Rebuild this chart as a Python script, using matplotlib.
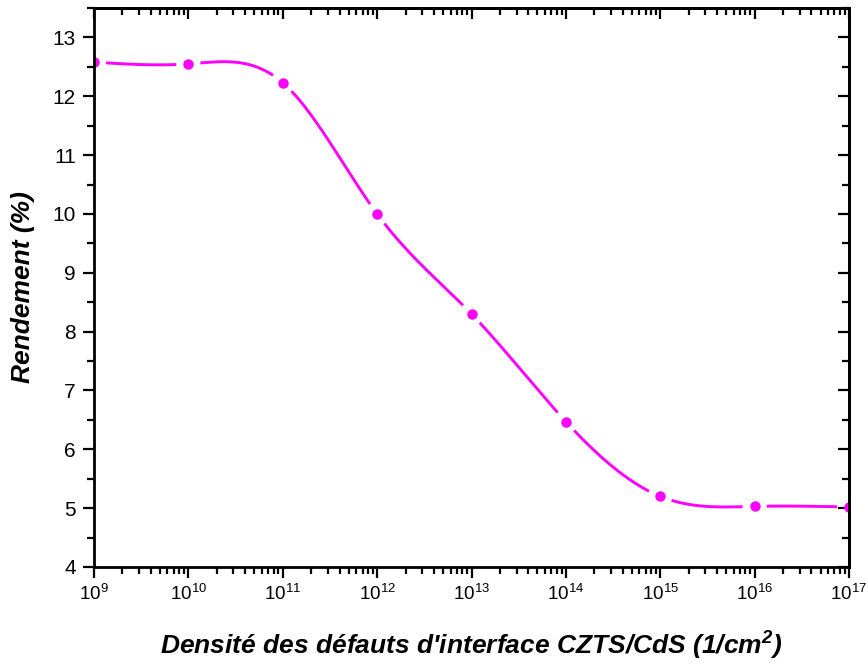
import numpy as np
import matplotlib
matplotlib.use('Agg')
import matplotlib.pyplot as plt
from matplotlib.ticker import LogLocator, MultipleLocator, NullFormatter

plt.rcParams['font.family'] = 'Liberation Sans'
plt.rcParams['mathtext.fontset'] = 'custom'
plt.rcParams['mathtext.rm'] = 'Liberation Sans'
plt.rcParams['mathtext.it'] = 'Liberation Sans:italic'
plt.rcParams['mathtext.bf'] = 'Liberation Sans:bold:italic'

# interface defect density (1/cm2) and efficiency (%)
density = [1e9, 1e10, 1e11, 1e12, 1e13, 1e14, 1e15, 1e16, 1e17]
rendement = [12.58, 12.55, 12.23, 10.0, 8.3, 6.47, 5.20, 5.03, 5.02]

COLOR = '#ff00ff'
GAP = 12  # px left empty around each symbol


def natural_spline(u, y):
    # second derivatives of a natural cubic spline
    n = len(u)
    h = np.diff(u)
    A = np.zeros((n, n))
    b = np.zeros(n)
    A[0, 0] = A[-1, -1] = 1
    for i in range(1, n - 1):
        A[i, i - 1] = h[i - 1]
        A[i, i] = 2 * (h[i - 1] + h[i])
        A[i, i + 1] = h[i]
        b[i] = 6 * ((y[i + 1] - y[i]) / h[i] - (y[i] - y[i - 1]) / h[i - 1])
    return np.linalg.solve(A, b)


def spline_piece(u, y, M, i, t):
    h = u[i + 1] - u[i]
    a = (u[i + 1] - t) / h
    c = (t - u[i]) / h
    return a * y[i] + c * y[i + 1] + ((a**3 - a) * M[i] + (c**3 - c) * M[i + 1]) * h**2 / 6


fig = plt.figure(figsize=(8.68, 6.64), dpi=100, facecolor='white')
ax = fig.add_axes([94 / 868, 1 - 567 / 664, 755 / 868, 559 / 664])
ax.set_xscale('log')
ax.set_xlim(1e9, 1e17)
ax.set_ylim(4, 13.5)

# smooth curve with gaps around the symbols
u = np.log10(density)
y = np.array(rendement)
M = natural_spline(u, y)
for i in range(len(u) - 1):
    t = np.linspace(u[i], u[i + 1], 400)
    ys = spline_piece(u, y, M, i, t)
    xs = 10**t
    pts = ax.transData.transform(np.column_stack([xs, ys]))
    p0 = ax.transData.transform((density[i], rendement[i]))
    p1 = ax.transData.transform((density[i + 1], rendement[i + 1]))
    keep = (np.hypot(*(pts - p0).T) > GAP) & (np.hypot(*(pts - p1).T) > GAP)
    ax.plot(xs[keep], ys[keep], color=COLOR, lw=2.1, solid_capstyle='butt')

ax.plot(density, rendement, 'o', color=COLOR, ms=6.5, mec=COLOR)

for s in ax.spines.values():
    s.set_linewidth(2)

ax.xaxis.set_major_locator(LogLocator(base=10, numticks=20))
ax.xaxis.set_minor_locator(LogLocator(base=10, subs=np.arange(2, 10), numticks=20))
ax.xaxis.set_minor_formatter(NullFormatter())
ax.yaxis.set_major_locator(MultipleLocator(1))
ax.yaxis.set_minor_locator(MultipleLocator(0.5))
ax.tick_params(which='major', direction='out', length=8, width=1.6, pad=4)
ax.tick_params(which='minor', direction='out', length=5, width=1.6)
ax.tick_params(axis='x', labelsize=13.5)
ax.tick_params(axis='y', labelsize=15, pad=5)

# inward ticks on top and right
top = ax.secondary_xaxis('top')
top.xaxis.set_major_locator(LogLocator(base=10, numticks=20))
top.xaxis.set_minor_locator(LogLocator(base=10, subs=np.arange(2, 10), numticks=20))
right = ax.secondary_yaxis('right')
right.yaxis.set_major_locator(MultipleLocator(1))
right.yaxis.set_minor_locator(MultipleLocator(0.5))
for sec in (top, right):
    sec.tick_params(which='major', direction='in', length=8, width=1.6,
                    labeltop=False, labelright=False)
    sec.tick_params(which='minor', direction='in', length=5, width=1.6)
    for s in sec.spines.values():
        s.set_linewidth(2)

ax.set_xlabel("Densité des défauts d'interface CZTS/CdS (1/cm$^{\\mathbf{2}}$)",
              fontsize=19, fontweight='bold', fontstyle='italic', va='center')
ax.xaxis.set_label_coords(0.5, -0.141)
ax.set_ylabel('Rendement (%)', fontsize=19, fontweight='bold', fontstyle='italic',
              va='center')
ax.yaxis.set_label_coords(-0.094, 0.5)

fig.savefig('out.png', dpi=100)
